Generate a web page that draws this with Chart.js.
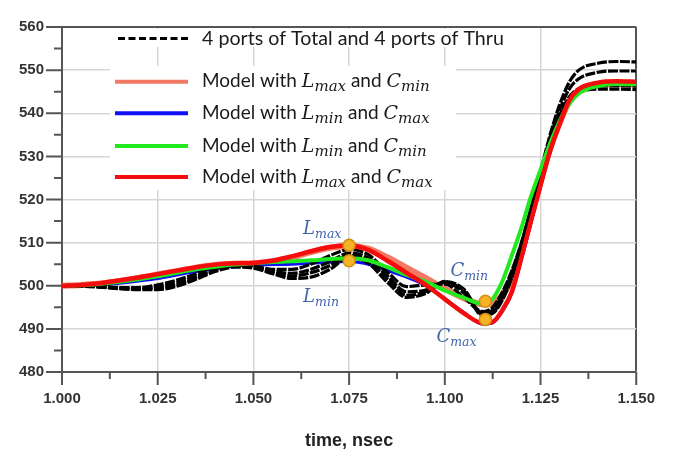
<!DOCTYPE html>
<html>
<head>
<meta charset="utf-8">
<script src="https://cdn.jsdelivr.net/npm/chart.js@4.4.1/dist/chart.umd.min.js"></script>
<style>
  body { margin: 0; background: #fff; }
</style>
</head>
<body>
<canvas id="chart" width="673" height="449"></canvas>
<script>
// sample times (nsec), finer steps through the rising edge
const times = [1.000, 1.005, 1.010, 1.015, 1.020, 1.025, 1.030, 1.035, 1.040, 1.045,
               1.050, 1.055, 1.060, 1.065, 1.070, 1.075, 1.080, 1.085, 1.090, 1.095,
               1.100, 1.105, 1.110, 1.1125, 1.115, 1.1175, 1.120, 1.1225, 1.125, 1.1275,
               1.130, 1.1325, 1.135, 1.140, 1.145, 1.150];

// measured waveforms (4 ports of Total and 4 ports of Thru)
const thru1 = [500.0, 500.0, 499.9, 499.6, 499.6, 500.2, 501.3, 502.8, 504.3, 505.1,
               504.7, 503.8, 503.8, 505.0, 507.0, 508.4, 507.2, 503.2, 499.8, 500.2,
               500.4, 497.2, 494.0, 495.0, 498.5, 503.5, 510.0, 518.0, 526.5, 535.0,
               542.0, 547.2, 550.0, 551.6, 552.0, 551.9];
const thru2 = [500.0, 500.0, 499.8, 499.5, 499.4, 499.7, 500.7, 502.2, 503.9, 504.8,
               504.5, 503.4, 502.9, 503.8, 505.6, 507.6, 506.4, 502.3, 498.6, 499.0,
               500.8, 498.3, 493.6, 494.4, 497.8, 503.0, 509.8, 517.8, 526.0, 534.3,
               540.8, 545.6, 548.0, 549.5, 549.8, 549.8];
const total1 = [500.0, 499.9, 499.7, 499.4, 499.3, 499.4, 500.2, 501.8, 503.6, 504.6,
                504.3, 503.1, 502.3, 503.0, 504.7, 507.0, 505.8, 501.5, 497.8, 498.6,
                500.9, 498.8, 493.0, 493.8, 497.0, 502.2, 509.0, 517.0, 525.3, 533.3,
                539.5, 543.8, 545.7, 546.4, 546.4, 546.3];
const total2 = [500.0, 499.9, 499.7, 499.3, 499.1, 499.1, 499.9, 501.5, 503.3, 504.3,
                504.1, 502.8, 501.7, 502.0, 503.8, 506.6, 505.2, 500.8, 497.3, 498.2,
                501.0, 499.2, 493.2, 493.6, 496.6, 501.8, 508.6, 516.6, 525.0, 533.0,
                539.0, 543.0, 544.8, 545.6, 545.6, 545.5];

// model waveforms
const lmaxCmin = [500.0, 500.2, 500.5, 501.1, 501.8, 502.6, 503.4, 504.2, 504.8, 505.1,
                  505.2, 505.7, 506.6, 507.8, 508.8, 509.2, 508.6, 506.6, 504.2, 501.8,
                  499.3, 497.1, 495.7, 496.0, 497.8, 501.5, 508.0, 516.0, 524.0, 531.8,
                  537.8, 542.6, 545.0, 546.4, 546.7, 546.6];
const lminCmax = [500.0, 500.0, 500.2, 500.6, 501.1, 501.7, 502.5, 503.3, 504.0, 504.5,
                  504.8, 504.9, 505.0, 505.2, 505.5, 505.6, 505.0, 503.6, 502.0, 500.1,
                  497.0, 493.8, 491.1, 491.4, 494.0, 498.2, 506.0, 514.5, 523.0, 531.0,
                  537.3, 542.8, 545.4, 546.9, 547.2, 547.1];
const lminCmin = [500.0, 500.1, 500.4, 500.9, 501.5, 502.2, 503.0, 503.8, 504.4, 504.9,
                  505.2, 505.5, 505.7, 505.9, 506.2, 506.4, 505.9, 504.3, 502.5, 500.9,
                  498.9, 497.2, 495.8, 497.0, 501.0, 507.0, 513.4, 520.7, 526.9, 533.0,
                  538.2, 542.2, 544.6, 546.3, 546.8, 546.7];
const lmaxCmax = [500.0, 500.2, 500.6, 501.2, 501.9, 502.7, 503.5, 504.3, 504.9, 505.2,
                  505.3, 505.8, 506.8, 508.0, 509.0, 509.4, 508.3, 505.8, 503.0, 500.2,
                  496.9, 493.6, 491.3, 491.6, 494.3, 498.6, 506.5, 515.0, 523.3, 531.3,
                  537.5, 543.0, 545.6, 547.1, 547.4, 547.3];

// extreme points marked on the curves
const markTimes = [1.075, 1.075, 1.1106, 1.1106];
const markValues = [509.4, 505.8, 496.4, 492.2];
const markVar = ['L', 'L', 'C', 'C'];
const markSub = ['max', 'min', 'min', 'max'];

const thruLabel = '4 ports of Total and 4 ports of Thru';
const modelSubs = [['max', 'min'], ['min', 'max'], ['min', 'min'], ['max', 'max']];
const modelColors = ['#f27a64', '#1010f5', '#22e81e', '#f50c0c'];

const pts = arr => times.map((t, i) => ({ x: t, y: arr[i] }));

function blackLine(arr) {
  return { data: pts(arr), borderColor: '#000', borderWidth: 3.2, borderDash: [10, 1.5], order: 3 };
}

const datasets = [
  { data: markTimes.map((t, i) => ({ x: t, y: markValues[i] })), showLine: false,
    pointRadius: 6, pointBackgroundColor: '#f4b324', pointBorderColor: '#d48c0c',
    pointBorderWidth: 1.5, order: 0 },
  { data: pts(lmaxCmax), borderColor: modelColors[3], borderWidth: 4.5, order: 1 },
  { data: pts(lminCmin), borderColor: modelColors[2], borderWidth: 4, order: 2 },
  blackLine(thru1), blackLine(thru2), blackLine(total1), blackLine(total2),
  { data: pts(lminCmax), borderColor: modelColors[1], borderWidth: 3, order: 4 },
  { data: pts(lmaxCmin), borderColor: modelColors[0], borderWidth: 6, order: 5 }
];

// text with italic math symbols and subscripts
function drawMath(ctx, x, y, parts, f) {
  ctx.textAlign = 'left';
  ctx.textBaseline = 'alphabetic';
  for (const [text, kind] of parts) {
    if (kind === 'txt') ctx.font = f.txt + 'px Lato';
    else if (kind === 'var') ctx.font = 'italic ' + f.v + 'px "DejaVu Serif"';
    else ctx.font = 'italic ' + f.sub + 'px "DejaVu Serif"';
    ctx.fillText(text, x, kind === 'sub' ? y + f.shift : y);
    x += ctx.measureText(text).width;
  }
}

function fitSize(ctx, text, width) {
  ctx.font = '100px Lato';
  return 100 * width / ctx.measureText(text).width;
}

const legendBox = {
  id: 'legendBox',
  afterDatasetsDraw(chart) {
    const ctx = chart.ctx;
    ctx.save();
    ctx.fillStyle = '#fff';
    ctx.fillRect(112, 29, 395, 18);
    ctx.fillRect(110, 66, 346, 124);

    ctx.strokeStyle = '#000';
    ctx.lineWidth = 3;
    ctx.setLineDash([7, 3.5]);
    ctx.beginPath();
    ctx.moveTo(118, 38.5);
    ctx.lineTo(190, 38.5);
    ctx.stroke();
    ctx.setLineDash([]);
    ctx.fillStyle = '#1a1a1a';
    ctx.font = fitSize(ctx, thruLabel, 302) + 'px Lato';
    ctx.textBaseline = 'alphabetic';
    ctx.fillText(thruLabel, 202, 44.5);

    const txt = fitSize(ctx, 'Model with', 95);
    const rows = [81.7, 113.3, 146, 177];
    modelSubs.forEach((s, i) => {
      ctx.strokeStyle = modelColors[i];
      ctx.lineWidth = 4;
      ctx.beginPath();
      ctx.moveTo(115, rows[i]);
      ctx.lineTo(188, rows[i]);
      ctx.stroke();
      ctx.fillStyle = '#1a1a1a';
      drawMath(ctx, 202, rows[i] + 5.5,
        [['Model with ', 'txt'], ['L', 'var'], [s[0], 'sub'], [' and ', 'txt'], ['C', 'var'], [s[1], 'sub']],
        { txt: txt, v: 19, sub: 15, shift: 4 });
    });
    ctx.restore();
  }
};

// label offsets from each marked point, in pixels
const markOffsets = [[-46, -11], [-46, 41], [-35, -25], [-49, 23]];

const markLabels = {
  id: 'markLabels',
  afterDatasetsDraw(chart) {
    const ctx = chart.ctx;
    const xs = chart.scales.x, ys = chart.scales.y;
    ctx.save();
    ctx.fillStyle = '#4566a8';
    markTimes.forEach((t, i) => {
      const px = xs.getPixelForValue(t) + markOffsets[i][0];
      const py = ys.getPixelForValue(markValues[i]) + markOffsets[i][1];
      drawMath(ctx, px, py, [[markVar[i], 'var'], [markSub[i], 'sub']], { v: 18, sub: 12.5, shift: 4 });
    });
    ctx.restore();
  }
};

// outward major and minor tick marks on both axes
const axisTicks = {
  id: 'axisTicks',
  afterDraw(chart) {
    const ctx = chart.ctx;
    const xs = chart.scales.x, ys = chart.scales.y;
    const a = chart.chartArea;
    ctx.save();
    ctx.strokeStyle = '#555';
    ctx.lineWidth = 2;
    ctx.beginPath();
    for (let v = 480; v <= 560; v += 5) {
      const py = ys.getPixelForValue(v);
      const len = v % 10 === 0 ? 16 : 8;
      ctx.moveTo(a.left - len, py);
      ctx.lineTo(a.left, py);
    }
    for (let k = 0; k <= 12; k++) {
      const px = xs.getPixelForValue(1 + k * 0.0125);
      const len = k % 2 === 0 ? 13 : 7;
      ctx.moveTo(px, a.bottom);
      ctx.lineTo(px, a.bottom + len);
    }
    ctx.stroke();
    ctx.restore();
  }
};

Chart.defaults.font.family = '"Liberation Sans", Arial, sans-serif';

const isEdge = (v, e) => Math.abs(v - e) < 1e-9;

new Chart(document.getElementById('chart').getContext('2d'), {
  type: 'line',
  data: { datasets },
  options: {
    responsive: false,
    animation: false,
    layout: { padding: { top: 14, right: 35, left: 0, bottom: 0 } },
    plugins: { legend: { display: false }, tooltip: { enabled: false } },
    elements: {
      point: { radius: 0 },
      line: { cubicInterpolationMode: 'monotone', fill: false }
    },
    scales: {
      x: {
        type: 'linear',
        min: 1.0,
        max: 1.15,
        afterFit: s => { s.height = 77; },
        ticks: {
          stepSize: 0.025,
          autoSkip: false,
          maxRotation: 0,
          padding: 18,
          color: '#333',
          font: { size: 15, weight: 'bold' },
          callback: v => v.toFixed(3)
        },
        grid: {
          drawTicks: false,
          color: c => (c.tick && isEdge(c.tick.value, 1.15)) ? '#555' : '#d6d6d6',
          lineWidth: c => (c.tick && isEdge(c.tick.value, 1.15)) ? 2 : 1.5
        },
        border: { color: '#555', width: 2 },
        title: {
          display: true,
          text: 'time, nsec',
          color: '#222',
          padding: 0,
          font: { size: 18, weight: 'bold', lineHeight: 0.9 }
        }
      },
      y: {
        min: 480,
        max: 560,
        afterFit: s => { s.width = 62; },
        ticks: {
          stepSize: 10,
          padding: 18,
          color: '#333',
          font: { size: 15, weight: 'bold' }
        },
        grid: {
          drawTicks: false,
          color: c => (c.tick && c.tick.value === 560) ? '#555' : '#d6d6d6',
          lineWidth: c => (c.tick && c.tick.value === 560) ? 2 : 1.5
        },
        border: { color: '#555', width: 2 }
      }
    }
  },
  plugins: [legendBox, markLabels, axisTicks]
});
</script>
</body>
</html>
